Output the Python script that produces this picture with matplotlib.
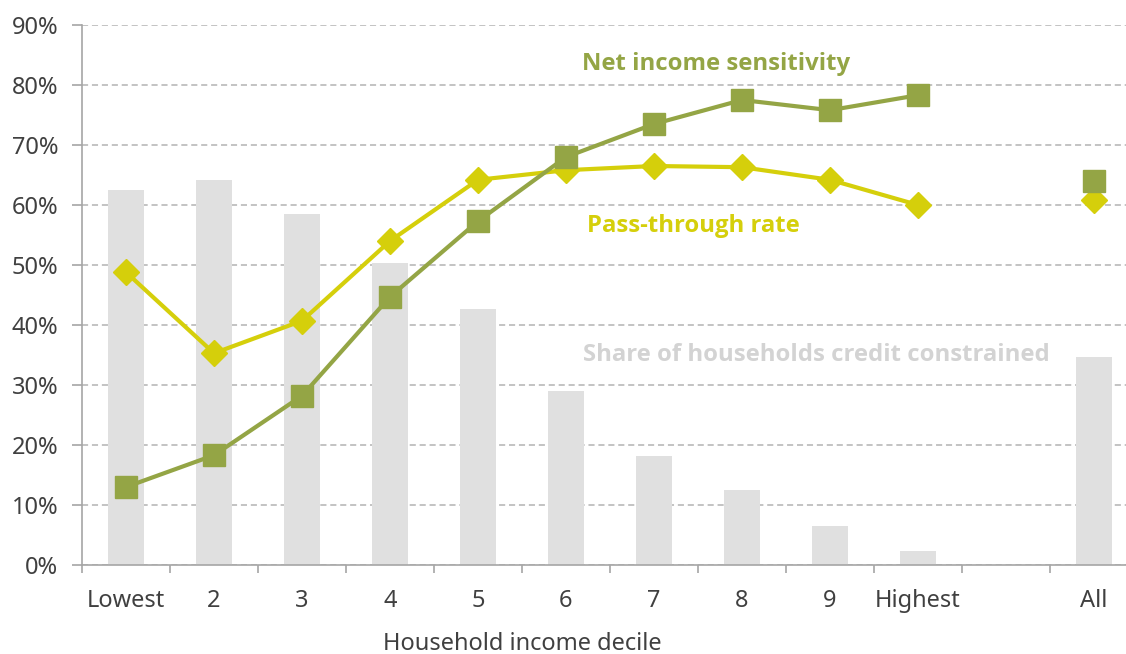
import matplotlib.pyplot as plt
import matplotlib.transforms as mtransforms
import numpy as np

plt.rcParams["font.family"] = ["Noto Sans", "DejaVu Sans"]

deciles = ["Lowest", "2", "3", "4", "5", "6", "7", "8", "9", "Highest", "", "All"]
credit_constrained = [62.5, 64.2, 58.5, 50.3, 42.7, 29.0, 18.2, 12.5, 6.5, 2.3, None, 34.7]
net_income_sens = [13.0, 18.3, 28.2, 44.7, 57.3, 68.0, 73.5, 77.5, 75.8, 78.3]
pass_through = [48.8, 35.3, 40.7, 54.0, 64.2, 65.8, 66.5, 66.3, 64.2, 60.0]
net_income_all = 64.0
pass_through_all = 60.8

GREEN = "#94a545"
YELLOW = "#d5cf0b"
BAR = "#e0e0e0"
TEXT = "#404040"
AXIS = "#a6a6a6"


def main():
    fig = plt.figure(figsize=(11.26, 6.54), dpi=100)
    ax = fig.add_axes([82 / 1126, 89 / 654, 1056 / 1126, 540 / 654])

    x = np.arange(len(deciles))
    bar_x = [i for i, v in enumerate(credit_constrained) if v is not None]
    bar_v = [v for v in credit_constrained if v is not None]
    ax.bar(bar_x, bar_v, width=0.4, color=BAR, zorder=2)

    line_x = x[: len(net_income_sens)]
    ax.plot(line_x, pass_through, color=YELLOW, lw=3, marker="D", ms=13.5,
            zorder=3)
    ax.plot(line_x, net_income_sens, color=GREEN, lw=3, marker="s", ms=16,
            zorder=4)
    ax.plot([x[-1]], [pass_through_all], color=YELLOW, marker="D", ms=13.5,
            ls="none", zorder=3)
    ax.plot([x[-1]], [net_income_all], color=GREEN, marker="s", ms=16,
            ls="none", zorder=4)

    ax.set_xlim(-0.5, len(deciles) - 0.5)
    ax.set_ylim(0, 90)
    ax.set_yticks(np.arange(0, 91, 10))
    ax.set_yticklabels([f"{v}%" for v in range(0, 91, 10)])
    ax.set_xticks(x)
    ax.set_xticklabels(deciles)
    ax.set_xticks(np.arange(-0.5, len(deciles)), minor=True)

    ax.yaxis.grid(True, color="#b3b3b3", ls=(0, (4, 2.5)), lw=1.1, zorder=0)
    ax.set_axisbelow(True)
    for side in ["top", "right"]:
        ax.spines[side].set_visible(False)
    for side in ["left", "bottom"]:
        ax.spines[side].set_color(AXIS)
        ax.spines[side].set_linewidth(1.2)

    ax.tick_params(axis="y", length=7, color=AXIS, width=1.2, labelsize=17,
                   labelcolor=TEXT, pad=10)
    ax.tick_params(axis="x", which="major", length=0, labelsize=17,
                   labelcolor=TEXT, pad=17)
    ax.tick_params(axis="x", which="minor", length=6, color=AXIS, width=1.2)

    trans = mtransforms.blended_transform_factory(ax.transData, fig.transFigure)
    ax.text(4.5, 4 / 654, "Household income decile", transform=trans,
            ha="center", va="baseline", fontsize=17, color=TEXT)

    bold = ["Open Sans", "DejaVu Sans"]
    ax.text(6.7, 83.5, "Net income sensitivity", ha="center", va="center",
            fontsize=17.2, fontweight="bold", color=GREEN, family=bold)
    ax.text(6.45, 56.5, "Pass-through rate", ha="center", va="center",
            fontsize=17.2, fontweight="bold", color=YELLOW, family=bold)
    ax.text(7.85, 35.0, "Share of households credit constrained", ha="center",
            va="center", fontsize=17.2, fontweight="bold", color="#d3d3d3",
            family=bold)

    fig.savefig("out.png", dpi=100)


if __name__ == "__main__":
    main()
